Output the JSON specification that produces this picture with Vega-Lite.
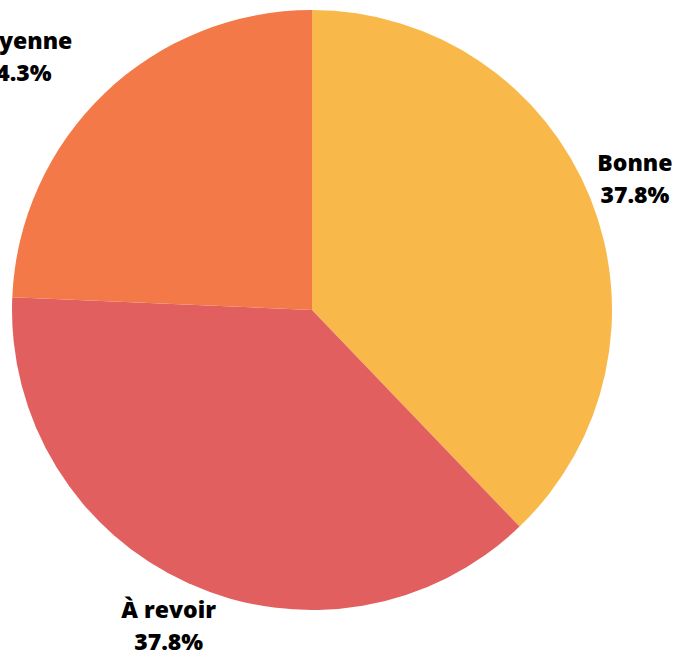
{
  "$schema": "https://vega.github.io/schema/vega-lite/v6.json",
  "width": 624,
  "height": 620,
  "autosize": "none",
  "padding": {"left": 0, "top": 0, "right": 54, "bottom": 33},
  "background": "white",
  "view": {"stroke": null},
  "data": {
    "values": [
      {"categorie": "Bonne", "n": 14, "ordre": 1},
      {"categorie": "À revoir", "n": 14, "ordre": 2},
      {"categorie": "Moyenne", "n": 9, "ordre": 3}
    ]
  },
  "transform": [
    {"joinaggregate": [{"op": "sum", "field": "n", "as": "total"}]},
    {"stack": "n", "groupby": [], "sort": [{"field": "ordre", "order": "ascending"}], "as": ["t0", "t1"]},
    {"calculate": "(datum.t0 + datum.t1) / 2", "as": "tmid"},
    {"calculate": "datum.categorie + '\\n' + format(datum.n / datum.total, '.1%')", "as": "etiquette"}
  ],
  "layer": [
    {
      "mark": {"type": "arc", "outerRadius": 300},
      "encoding": {
        "theta": {"field": "t0", "type": "quantitative", "scale": {"domain": [0, 37], "range": [0, 6.283185307179586], "zero": true, "nice": false}},
        "theta2": {"field": "t1"},
        "color": {
          "field": "categorie",
          "type": "nominal",
          "scale": {
            "domain": ["Bonne", "À revoir", "Moyenne"],
            "range": ["#F9B94A", "#E15F5F", "#F37A48"]
          },
          "legend": null
        }
      }
    },
    {
      "transform": [{"filter": "datum.categorie != 'Moyenne'"}],
      "mark": {
        "type": "text",
        "radius": 348,
        "align": "center",
        "baseline": "middle",
        "dy": -16,
        "font": "Open Sans",
        "fontWeight": 800,
        "fontSize": 23,
        "lineHeight": 32,
        "color": "#000000"
      },
      "encoding": {
        "theta": {"field": "tmid", "type": "quantitative", "scale": {"domain": [0, 37], "range": [0, 6.283185307179586], "zero": true, "nice": false}},
        "text": {"field": "etiquette"}
      }
    },
    {
      "transform": [{"filter": "datum.categorie == 'Moyenne'"}],
      "mark": {
        "type": "text",
        "radius": 348,
        "align": "center",
        "baseline": "middle",
        "dx": -54,
        "dy": -17,
        "font": "Open Sans",
        "fontWeight": 800,
        "fontSize": 23,
        "lineHeight": 32,
        "color": "#000000"
      },
      "encoding": {
        "theta": {"field": "tmid", "type": "quantitative", "scale": {"domain": [0, 37], "range": [0, 6.283185307179586], "zero": true, "nice": false}},
        "text": {"field": "etiquette"}
      }
    }
  ],
  "config": {"text": {"lineBreak": "\n"}}
}
